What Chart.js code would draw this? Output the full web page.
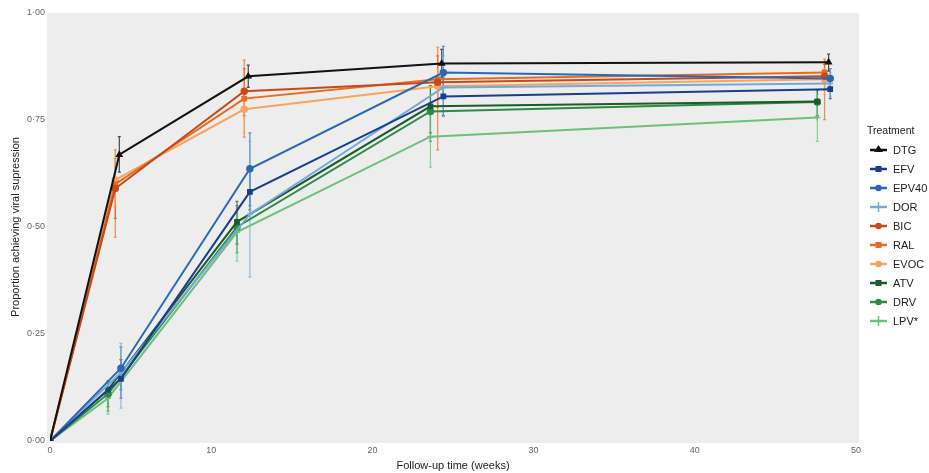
<!DOCTYPE html>
<html><head><meta charset="utf-8">
<script src="https://cdn.jsdelivr.net/npm/chart.js@4.4.1/dist/chart.umd.min.js"></script>
<style>html,body{margin:0;padding:0;background:#fff}#wrap{width:929px;height:473px}</style>
</head><body><div id="wrap"><canvas id="c" width="929" height="473"></canvas></div>
<script>
const weeks = [0, 4, 12, 24, 48];
const treatments = ["DTG","EFV","EPV40","DOR","BIC","RAL","EVOC","ATV","DRV","LPV*"];
const groups = ["DTG","blue","blue","blue","orange","orange","orange","green","green","green"];
const DTG   = [0, 0.669, 0.852, 0.882, 0.885];
const EFV   = [0, 0.145, 0.582, 0.805, 0.822];
const EPV40 = [0, 0.170, 0.636, 0.861, 0.847];
const DOR   = [0, 0.160, 0.530, 0.826, 0.835];
const BIC   = [0, 0.590, 0.817, 0.838, 0.852];
const RAL   = [0, 0.600, 0.800, 0.845, 0.861];
const EVOC  = [0, 0.610, 0.775, 0.829, 0.845];
const ATV   = [0, 0.120, 0.512, 0.782, 0.793];
const DRV   = [0, 0.110, 0.500, 0.770, 0.792];
const LPV   = [0, 0.100, 0.488, 0.711, 0.756];
// 95% CI (lower, upper) per time point
const DTG_lo   = [0, 0.628, 0.826, 0.850, 0.864];
const DTG_hi   = [0, 0.711, 0.878, 0.915, 0.904];
const EFV_lo   = [0, 0.100, 0.540, 0.760, 0.800];
const EFV_hi   = [0, 0.190, 0.630, 0.850, 0.845];
const EPV40_lo = [0, 0.120, 0.550, 0.800, 0.820];
const EPV40_hi = [0, 0.220, 0.720, 0.922, 0.870];
const DOR_lo   = [0, 0.077, 0.383, 0.758, 0.805];
const DOR_hi   = [0, 0.228, 0.700, 0.900, 0.860];
const BIC_lo   = [0, 0.520, 0.760, 0.780, 0.820];
const BIC_hi   = [0, 0.660, 0.870, 0.900, 0.880];
const RAL_lo   = [0, 0.476, 0.710, 0.680, 0.751];
const RAL_hi   = [0, 0.680, 0.890, 0.920, 0.892];
const EVOC_lo  = [0, 0.550, 0.720, 0.790, 0.810];
const EVOC_hi  = [0, 0.660, 0.830, 0.870, 0.870];
const ATV_lo   = [0, 0.080, 0.460, 0.720, 0.760];
const ATV_hi   = [0, 0.140, 0.560, 0.830, 0.820];
const DRV_lo   = [0, 0.070, 0.440, 0.700, 0.760];
const DRV_hi   = [0, 0.140, 0.550, 0.830, 0.820];
const LPV_lo   = [0, 0.063, 0.420, 0.640, 0.700];
const LPV_hi   = [0, 0.140, 0.540, 0.790, 0.810];
const yTicks = [0, 0.25, 0.5, 0.75, 1.0];
const xTicks = [0, 10, 20, 30, 40, 50];

const values = [DTG,EFV,EPV40,DOR,BIC,RAL,EVOC,ATV,DRV,LPV];
const lows = [DTG_lo,EFV_lo,EPV40_lo,DOR_lo,BIC_lo,RAL_lo,EVOC_lo,ATV_lo,DRV_lo,LPV_lo];
const highs = [DTG_hi,EFV_hi,EPV40_hi,DOR_hi,BIC_hi,RAL_hi,EVOC_hi,ATV_hi,DRV_hi,LPV_hi];
const colors = ["#111111","#1c3d8c","#2a68b5","#74a9dc","#c44a17","#ec6a1e","#f6a45e","#1d5a2c","#2b8c43","#6cc07a"];
const shapes = ["triangle","rect","circle","cross","circle","rect","circle","rect","circle","cross"];
const dodge = {DTG:0.3, blue:0.4, orange:0.05, green:-0.4};

const datasets = treatments.map((t,i)=>({
  label: t,
  data: weeks.map((w,j)=>({x: w===0 ? 0 : w + dodge[groups[i]], y: values[i][j], lo: lows[i][j], hi: highs[i][j]})),
  borderColor: colors[i], backgroundColor: colors[i],
  borderWidth: 2, pointRadius: 3, pointStyle: shapes[i], pointBorderWidth: 1.5,
  tension: 0
}));

const bgPlugin = {
  id:'bg',
  beforeDraw(chart){
    const {ctx, chartArea:a} = chart;
    ctx.save(); ctx.fillStyle = '#ededed';
    ctx.fillRect(a.left-3, a.top, a.right-a.left+6, a.bottom-a.top+2);
    ctx.restore();
  }
};
const errPlugin = {
  id:'err',
  beforeDatasetsDraw(chart){
    const ctx = chart.ctx, xs = chart.scales.x, ys = chart.scales.y;
    ctx.save();
    chart.data.datasets.forEach((ds,i)=>{
      ctx.strokeStyle = ds.borderColor; ctx.globalAlpha = 0.75; ctx.lineWidth = 1.2;
      ds.data.forEach(p=>{
        if (p.hi - p.lo <= 0) return;
        const x = xs.getPixelForValue(p.x), y1 = ys.getPixelForValue(p.lo), y2 = ys.getPixelForValue(p.hi);
        ctx.beginPath(); ctx.moveTo(x,y1); ctx.lineTo(x,y2);
        ctx.moveTo(x-1.5,y1); ctx.lineTo(x+1.5,y1); ctx.moveTo(x-1.5,y2); ctx.lineTo(x+1.5,y2);
        ctx.stroke();
      });
    });
    ctx.restore();
  }
};
const legendPlugin = {
  id:'lg',
  afterDraw(chart){
    const ctx = chart.ctx;
    ctx.save();
    ctx.font = '10.5px "Liberation Sans", Arial, sans-serif';
    ctx.fillStyle = '#222'; ctx.textBaseline = 'middle';
    ctx.fillText('Treatment', 867, 131);
    ctx.font = '11px "Liberation Sans", Arial, sans-serif';
    chart.data.datasets.forEach((ds,i)=>{
      const y = 150 + i*19;
      ctx.strokeStyle = ds.borderColor; ctx.lineWidth = 2.5;
      ctx.beginPath(); ctx.moveTo(870,y); ctx.lineTo(887,y); ctx.stroke();
      ctx.fillStyle = ds.borderColor;
      ctx.beginPath();
      if (ds.pointStyle==='triangle'){ctx.moveTo(878.5,y-5);ctx.lineTo(883,y+2);ctx.lineTo(874,y+2);ctx.closePath();ctx.fill();}
      else if (ds.pointStyle==='rect'){ctx.fillRect(875.5,y-3,6,6);}
      else if (ds.pointStyle==='cross'){ctx.lineWidth=1.5;ctx.moveTo(878.5,y-5);ctx.lineTo(878.5,y+5);ctx.stroke();}
      else {ctx.arc(878.5,y,3.2,0,Math.PI*2);ctx.fill();}
      ctx.fillStyle = '#222';
      ctx.fillText(ds.label, 893, y+0.5);
    });
    ctx.restore();
  }
};

const tickFont = {family:'"Liberation Sans", Arial, sans-serif', size:9};
new Chart(document.getElementById('c'), {
  type:'line',
  data:{datasets},
  options:{
    responsive:false, animation:false,
    layout:{padding:{top:13, right:73, left:9, bottom:0}},
    plugins:{legend:{display:false}, tooltip:{enabled:false}},
    scales:{
      x:{type:'linear', min:0, max:50,
        afterBuildTicks(s){ s.ticks = xTicks.map(v=>({value:v})); },
        afterFit(s){ s.height = 32; },
        grid:{display:false, drawTicks:true, tickLength:3, tickColor:'#777'},
        border:{display:false},
        ticks:{color:'#666', font:tickFont, padding:1, maxRotation:0, callback:v=>String(v)},
        title:{display:true, text:'Follow-up time (weeks)', color:'#222', font:{family:'"Liberation Sans", Arial, sans-serif', size:11}, padding:{top:0,bottom:0}}
      },
      y:{type:'linear', min:0, max:1,
        afterBuildTicks(s){ s.ticks = yTicks.map(v=>({value:v})); },
        afterFit(s){ s.width = 41; },
        grid:{display:false, drawTicks:true, tickLength:3, tickColor:'#777'},
        border:{display:false},
        ticks:{color:'#666', font:tickFont, padding:2, callback:v=>v.toFixed(2).replace('.', '·')},
        title:{display:true, text:'Proportion achieving viral supression', color:'#222', font:{family:'"Liberation Sans", Arial, sans-serif', size:11}, padding:{top:0,bottom:4}}
      }
    }
  },
  plugins:[bgPlugin, errPlugin, legendPlugin]
});
</script></body></html>
